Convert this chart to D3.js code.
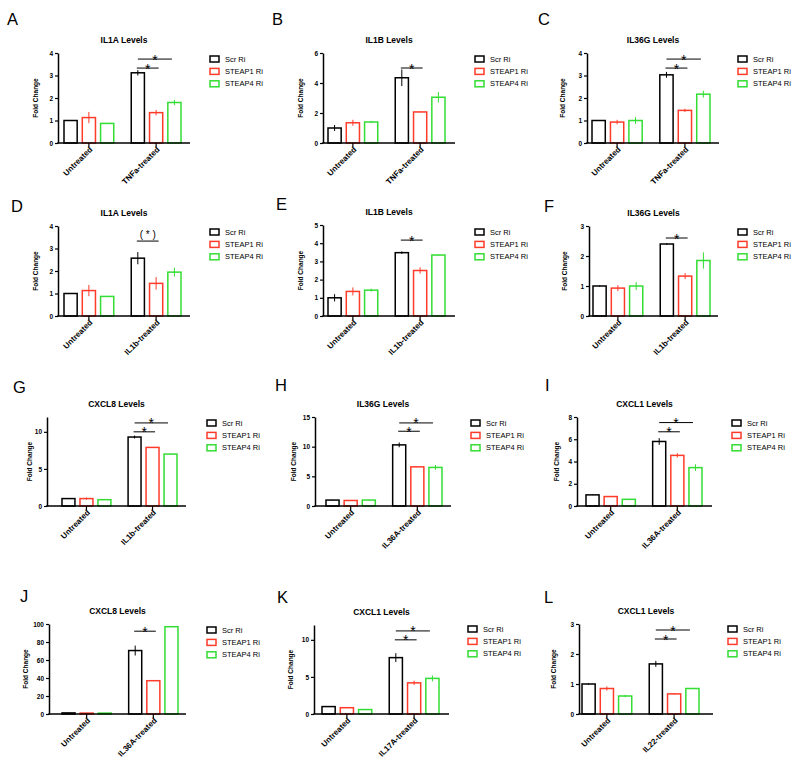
<!DOCTYPE html>
<html><head><meta charset="utf-8">
<script src="https://cdn.jsdelivr.net/npm/d3@7"></script>
<style>
body{margin:0;background:#fff}
text{font-family:"Liberation Sans",Arial,Helvetica,sans-serif}
</style>
</head><body>
<svg id="c" width="800" height="767"></svg>
<script>
// ---------------- DATA ----------------
const seriesNames = ["Scr Ri", "STEAP1 Ri", "STEAP4 Ri"];
const seriesColors = ["#000000", "#ff3b2a", "#33dd33"];
const panelLetters = ["A","B","C","D","E","F","G","H","I","J","K","L"];
const panelTitles = ["IL1A Levels","IL1B Levels","IL36G Levels","IL1A Levels","IL1B Levels","IL36G Levels",
                     "CXCL8 Levels","IL36G Levels","CXCL1 Levels","CXCL8 Levels","CXCL1 Levels","CXCL1 Levels"];
const treatments = ["TNFa-treated","TNFa-treated","TNFa-treated","IL1b-treated","IL1b-treated","IL1b-treated",
                    "IL1b-treated","IL36A-treated","IL36A-treated","IL36A-treated","IL17A-treated","IL22-treated"];
const yMax = [4, 6, 4, 4, 5, 3, 12, 15, 8, 100, 12, 3];
const yTickValues = [[0,1,2,3,4],[0,2,4,6],[0,1,2,3,4],[0,1,2,3,4],[0,1,2,3,4,5],[0,1,2,3],
                     [0,5,10],[0,5,10,15],[0,2,4,6,8],[0,20,40,60,80,100],[0,5,10],[0,1,2,3]];

// values: [untreated [Scr, STEAP1, STEAP4], treated [Scr, STEAP1, STEAP4]]
const valuesA = [[1.0, 1.13, 0.87], [3.12, 1.35, 1.80]];
const errorsA = [[0.02, 0.25, 0.02], [0.12, 0.12, 0.12]];
const valuesB = [[1.0, 1.35, 1.40], [4.35, 2.07, 3.05]];
const errorsB = [[0.20, 0.20, 0.07], [0.55, 0.02, 0.35]];
const valuesC = [[1.0, 0.93, 1.00], [3.03, 1.45, 2.17]];
const errorsC = [[0.02, 0.10, 0.15], [0.13, 0.07, 0.15]];
const valuesD = [[1.0, 1.13, 0.87], [2.57, 1.45, 1.95]];
const errorsD = [[0.02, 0.25, 0.02], [0.27, 0.28, 0.20]];
const valuesE = [[1.0, 1.35, 1.42], [3.48, 2.50, 3.35]];
const errorsE = [[0.20, 0.22, 0.08], [0.07, 0.17, 0.02]];
const valuesF = [[1.0, 0.93, 1.00], [2.40, 1.33, 1.85]];
const errorsF = [[0.02, 0.10, 0.13], [0.03, 0.10, 0.27]];
const valuesG = [[1.0, 1.00, 0.85], [9.30, 7.90, 7.00]];
const errorsG = [[0.03, 0.15, 0.03], [0.20, 0.05, 0.05]];
const valuesH = [[1.0, 0.93, 1.00], [10.3, 6.60, 6.50]];
const errorsH = [[0.03, 0.05, 0.05], [0.40, 0.03, 0.40]];
const valuesI = [[1.0, 0.85, 0.60], [5.80, 4.55, 3.45]];
const errorsI = [[0.02, 0.05, 0.02], [0.30, 0.20, 0.30]];
const valuesJ = [[1.2, 1.00, 1.00], [70.5, 37.0, 97.0]];
const errorsJ = [[0.20, 0.20, 0.20], [5.50, 0.30, 0.50]];
const valuesK = [[1.0, 0.85, 0.60], [7.60, 4.20, 4.80]];
const errorsK = [[0.02, 0.03, 0.03], [0.60, 0.30, 0.40]];
const valuesL = [[1.0, 0.85, 0.60], [1.67, 0.67, 0.85]];
const errorsL = [[0.02, 0.07, 0.04], [0.10, 0.02, 0.02]];

// significance brackets: [compared series index, y value, label]
const sigA = [[1, 3.33, "*"], [2, 3.73, "*"]];
const sigB = [[1, 5.0, "*"]];
const sigC = [[1, 3.33, "*"], [2, 3.73, "*"]];
const sigD = [[1, 3.33, "( * )"]];
const sigE = [[1, 4.17, "*"]];
const sigF = [[1, 2.6, "*"]];
const sigG = [[1, 10.0, "*"], [2, 11.2, "*"]];
const sigH = [[1, 12.6, "*"], [2, 14.0, "*"]];
const sigI = [[1, 6.67, "*"], [2, 7.5, "*"]];
const sigJ = [[1, 92, "*"]];
const sigK = [[1, 10.0, "*"], [2, 11.2, "*"]];
const sigL = [[1, 2.5, "*"], [2, 2.8, "*"]];

const allValues = [valuesA,valuesB,valuesC,valuesD,valuesE,valuesF,valuesG,valuesH,valuesI,valuesJ,valuesK,valuesL];
const allErrors = [errorsA,errorsB,errorsC,errorsD,errorsE,errorsF,errorsG,errorsH,errorsI,errorsJ,errorsK,errorsL];
const allSig = [sigA,sigB,sigC,sigD,sigE,sigF,sigG,sigH,sigI,sigJ,sigK,sigL];

// ---------------- LAYOUT ----------------
const layout = [
  {x0:58,  x1:190, top:53,  bottom:143, barL:64,  barR:181, legX:210, legY:59,  letX:7,   letY:25,  ylab:-20},
  {x0:323, x1:455, top:53,  bottom:143, barL:328, barR:445, legX:475, legY:59,  letX:272, letY:25,  ylab:-20},
  {x0:587, x1:719, top:53,  bottom:143, barL:592, barR:710, legX:738, legY:59,  letX:538, letY:25,  ylab:-22},
  {x0:58,  x1:190, top:226, bottom:316, barL:64,  barR:181, legX:210, legY:232, letX:11,  letY:212, ylab:-20},
  {x0:323, x1:455, top:225, bottom:316, barL:328, barR:445, legX:475, legY:232, letX:276, letY:210, ylab:-20},
  {x0:589, x1:718, top:226, bottom:316, barL:593, barR:710, legX:738, legY:232, letX:544, letY:212, ylab:-22},
  {x0:47,  x1:186, top:417, bottom:506, barL:62,  barR:177, legX:207, legY:423, letX:13,  letY:393, ylab:-15},
  {x0:315, x1:451, top:417, bottom:506, barL:326, barR:442, legX:471, legY:423, letX:275, letY:391, ylab:-19},
  {x0:577, x1:712, top:417, bottom:506, barL:586, barR:702, legX:732, legY:423, letX:545, letY:391, ylab:-18},
  {x0:49,  x1:186, top:624, bottom:714, barL:62,  barR:178, legX:207, legY:630, letX:20,  letY:602, ylab:-21},
  {x0:314, x1:449, top:625, bottom:714, barL:322, barR:439, legX:468, legY:629, letX:277, letY:603, ylab:-21},
  {x0:579, x1:713, top:624, bottom:714, barL:582, barR:699, legX:728, legY:629, letX:544, letY:603, ylab:-23}
];

const svg = d3.select("#c");
svg.append("rect").attr("width",800).attr("height",767).attr("fill","#fff");

panelLetters.forEach((letter, i) => {
  const L = layout[i];
  const vals = allValues[i], errs = allErrors[i];
  const g = svg.append("g");
  const cats = ["Untreated", treatments[i]];
  const y = d3.scaleLinear().domain([0, yMax[i]]).range([L.bottom, L.top]);
  const x = d3.scaleBand().domain(cats).range([L.barL, L.barR]).paddingInner(0.26).paddingOuter(0);
  const xs = d3.scaleBand().domain([0,1,2]).range([0, x.bandwidth()]).paddingInner(0.28);

  // letter
  g.append("text").attr("x", L.letX).attr("y", L.letY).attr("font-size", 16.5).text(letter);
  // title
  g.append("text").attr("x", (L.x0 + L.x1) / 2).attr("y", L.top - 10)
    .attr("text-anchor","middle").attr("font-size", 8.5).attr("font-weight","bold").text(panelTitles[i]);

  // bars
  cats.forEach((c, ci) => {
    seriesNames.forEach((s, si) => {
      const v = vals[ci][si], e = errs[ci][si];
      const bx = x(c) + xs(si);
      g.append("rect").attr("x", bx).attr("y", y(v)).attr("width", xs.bandwidth())
        .attr("height", L.bottom - y(v)).attr("fill","#fff")
        .attr("stroke", seriesColors[si]).attr("stroke-width", 1.5);
      const cx = bx + xs.bandwidth() / 2;
      g.append("line").attr("x1", cx).attr("x2", cx).attr("y1", y(v - e)).attr("y2", y(v + e))
        .attr("stroke", seriesColors[si]).attr("stroke-width", 1);
    });
  });

  // y axis
  const ya = g.append("g").attr("transform", `translate(${L.x0},0)`)
    .call(d3.axisLeft(y).tickValues(yTickValues[i]).tickSize(3).tickSizeOuter(0).tickPadding(2).tickFormat(d3.format("d")));
  ya.select(".domain").attr("stroke-width", 1.5);
  ya.selectAll(".tick line").attr("stroke-width", 1.2);
  ya.selectAll(".tick text").attr("font-size", 6.5).attr("font-weight","bold").attr("font-family",null);

  // y label
  g.append("text").attr("transform", `translate(${L.x0 + L.ylab},${(L.top + L.bottom) / 2}) rotate(-90)`)
    .attr("text-anchor","middle").attr("font-size", 6.5).attr("font-weight","bold").text("Fold Change");

  // x axis
  const xa = g.append("g").attr("transform", `translate(0,${L.bottom})`)
    .call(d3.axisBottom(x).tickSize(4).tickSizeOuter(0));
  xa.select(".domain").remove();
  xa.selectAll(".tick line").attr("stroke-width", 1.2);
  xa.selectAll(".tick text").attr("font-size", 8).attr("font-weight","bold").attr("font-family",null)
    .attr("text-anchor","end").attr("x",0).attr("y",0).attr("dy",0)
    .attr("transform","translate(4,7) rotate(-45)");
  g.append("line").attr("x1", L.x0 - 0.75).attr("x2", L.x1).attr("y1", L.bottom).attr("y2", L.bottom)
    .attr("stroke","#000").attr("stroke-width", 1.5);

  // significance
  const c0 = x(treatments[i]) + xs(0) + xs.bandwidth() / 2;
  allSig[i].forEach(([si, yv, lab]) => {
    const ct = x(treatments[i]) + xs(si) + xs.bandwidth() / 2;
    const xa1 = si === 1 ? c0 - 1 : c0;
    const xa2 = si === 1 ? ct + 2.5 : ct - 2.5;
    g.append("line").attr("x1", xa1).attr("x2", xa2).attr("y1", y(yv)).attr("y2", y(yv))
      .attr("stroke","#000").attr("stroke-width", 1);
    if (lab === "*") {
      g.append("text").attr("x", (xa1 + xa2) / 2).attr("y", y(yv) + 5.5)
        .attr("text-anchor","middle").attr("font-size", 14).text(lab);
    } else {
      g.append("text").attr("x", (xa1 + xa2) / 2).attr("y", y(yv) - 3)
        .attr("text-anchor","middle").attr("font-size", 10).text(lab);
    }
  });

  // legend
  seriesNames.forEach((s, si) => {
    const ly = L.legY + si * 12.4;
    g.append("rect").attr("x", L.legX).attr("y", ly - 3).attr("width", 9).attr("height", 6)
      .attr("fill","#fff").attr("stroke", seriesColors[si]).attr("stroke-width", 1.5);
    g.append("text").attr("x", L.legX + 15).attr("y", ly + 2.6).attr("font-size", 7.5).text(s);
  });
});
</script>
</body></html>
